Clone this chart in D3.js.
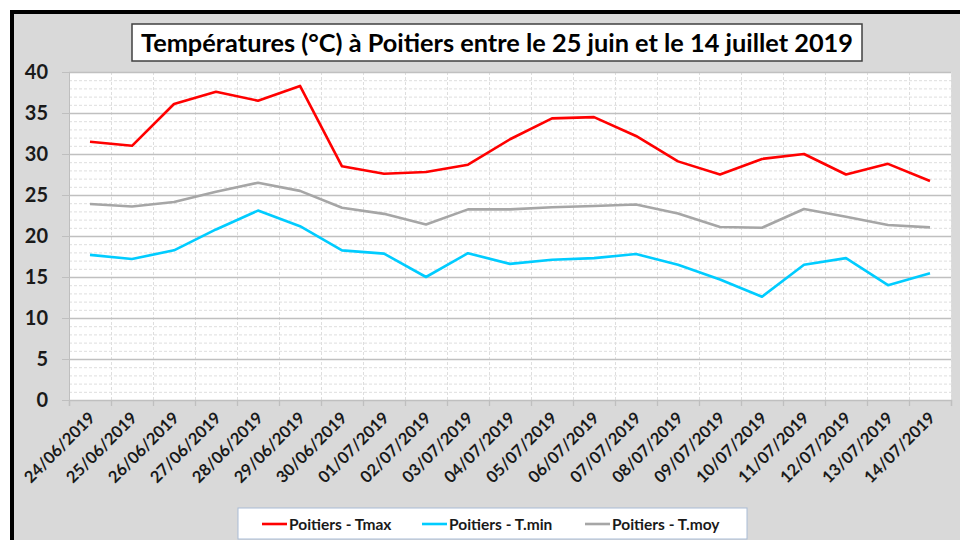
<!DOCTYPE html>
<html>
<head>
<meta charset="utf-8">
<script src="https://cdn.jsdelivr.net/npm/d3@7"></script>
<style>
  body { margin: 0; background: #fff; }
  svg { display: block; font-family: Lato, "Open Sans", sans-serif; }
</style>
</head>
<body>
<div id="chart"></div>
<script>
const dates = ["24/06/2019","25/06/2019","26/06/2019","27/06/2019","28/06/2019","29/06/2019","30/06/2019",
  "01/07/2019","02/07/2019","03/07/2019","04/07/2019","05/07/2019","06/07/2019","07/07/2019",
  "08/07/2019","09/07/2019","10/07/2019","11/07/2019","12/07/2019","13/07/2019","14/07/2019"];
const tmax = [31.5, 31.0, 36.1, 37.6, 36.5, 38.3, 28.5, 27.6, 27.8, 28.7, 31.8, 34.35, 34.5, 32.2, 29.1, 27.5, 29.4, 30.0, 27.5, 28.8, 26.7];
const tmin = [17.7, 17.2, 18.25, 20.8, 23.1, 21.2, 18.25, 17.85, 15.0, 17.9, 16.6, 17.1, 17.3, 17.8, 16.5, 14.7, 12.6, 16.5, 17.3, 14.0, 15.45];
const tmoy = [23.9, 23.6, 24.15, 25.4, 26.5, 25.5, 23.45, 22.7, 21.4, 23.25, 23.25, 23.5, 23.65, 23.85, 22.75, 21.1, 21.0, 23.3, 22.35, 21.35, 21.05];
const yTicks = [0, 5, 10, 15, 20, 25, 30, 35, 40];
const title = "Températures (°C) à Poitiers entre le 25 juin et le 14 juillet 2019";
const seriesNames = ["Poitiers - Tmax", "Poitiers - T.min", "Poitiers - T.moy"];
const colors = ["#ff0000", "#00ccff", "#a6a6a6"];

const W = 960, H = 540;
const plot = { left: 69, right: 951, top: 72, bottom: 400 };

const svg = d3.select("#chart").append("svg")
    .attr("width", W).attr("height", H);

// outer frame (continues past the right / bottom edge)
svg.append("rect")
    .attr("x", 12).attr("y", 12)
    .attr("width", 1000).attr("height", 600)
    .attr("fill", "#d9d9d9")
    .attr("stroke", "#000").attr("stroke-width", 4);

svg.append("rect")
    .attr("x", plot.left).attr("y", plot.top)
    .attr("width", plot.right - plot.left).attr("height", plot.bottom - plot.top)
    .attr("fill", "#fff");

const x = d3.scaleBand().domain(dates).range([plot.left, plot.right]);
const xb = d3.scaleLinear().domain([0, dates.length]).range([plot.left, plot.right]);
const y = d3.scaleLinear().domain([0, 40]).range([plot.bottom, plot.top]);

// minor dashed grid, every degree
svg.append("g")
    .attr("transform", `translate(${plot.left},0)`)
    .call(d3.axisLeft(y).tickValues(d3.range(1, 41).filter(v => v % 5 !== 0))
        .tickSize(-(plot.right - plot.left)).tickFormat(""))
    .call(g => g.select(".domain").remove())
    .call(g => g.selectAll("line").attr("stroke", "#dedede").attr("stroke-dasharray", "3,2"));

// vertical dashed grid at category boundaries
svg.append("g")
    .attr("transform", `translate(0,${plot.top})`)
    .call(d3.axisBottom(xb).tickValues(d3.range(1, dates.length + 1))
        .tickSize(plot.bottom - plot.top).tickFormat(""))
    .call(g => g.select(".domain").remove())
    .call(g => g.selectAll("line").attr("stroke", "#dedede").attr("stroke-dasharray", "3,2"));

// y axis
svg.append("g")
    .attr("transform", `translate(${plot.left},0)`)
    .call(d3.axisLeft(y).tickValues(yTicks).tickSize(7).tickPadding(14))
    .call(g => g.select(".domain").attr("stroke", "#bfbfbf"))
    .call(g => g.selectAll(".tick line").attr("stroke", "#bfbfbf"))
    .call(g => g.selectAll(".tick text")
        .attr("fill", "#1a1a1a").attr("font-size", 20).attr("font-weight", "bold")
        .attr("font-family", "Lato, sans-serif"));
// major grid
svg.append("g")
    .attr("transform", `translate(${plot.left},0)`)
    .call(d3.axisLeft(y).tickValues(yTicks.slice(1)).tickSize(-(plot.right - plot.left)).tickFormat(""))
    .call(g => g.select(".domain").remove())
    .call(g => g.selectAll("line").attr("stroke", "#c0c0c0").attr("stroke-width", 1.3));

// x axis ticks at boundaries
svg.append("g")
    .attr("transform", `translate(0,${plot.bottom})`)
    .call(d3.axisBottom(xb).tickValues(d3.range(0, dates.length + 1)).tickSize(6).tickFormat(""))
    .call(g => g.selectAll("line, path").attr("stroke", "#bfbfbf").attr("stroke-width", 1.3));

// x labels
svg.append("g")
    .attr("transform", `translate(0,${plot.bottom})`)
    .call(d3.axisBottom(x).tickSize(0).tickPadding(0))
    .call(g => g.select(".domain").remove())
    .call(g => g.selectAll(".tick text")
        .attr("text-anchor", "end")
        .attr("dy", 0)
        .attr("transform", "translate(6,19) rotate(-45)")
        .attr("fill", "#1a1a1a").attr("font-size", 16.5).attr("font-weight", "bold")
        .attr("font-family", "Lato, sans-serif"));

// lines
const line = d3.line()
    .x((d, i) => x(dates[i]) + x.bandwidth() / 2)
    .y(d => y(d));

[tmax, tmin, tmoy].forEach((s, i) => {
    svg.append("path")
        .datum(s)
        .attr("fill", "none")
        .attr("stroke", colors[i])
        .attr("stroke-width", 2.6)
        .attr("stroke-linejoin", "round")
        .attr("d", line);
});

// title
svg.append("rect")
    .attr("x", 132).attr("y", 24).attr("width", 730).attr("height", 37)
    .attr("fill", "#fff").attr("stroke", "#404040").attr("stroke-width", 1.5);
svg.append("text")
    .attr("x", 497).attr("y", 52)
    .attr("text-anchor", "middle")
    .attr("font-size", 24).attr("font-weight", "bold").attr("fill", "#000")
    .attr("textLength", 712).attr("lengthAdjust", "spacingAndGlyphs")
    .text(title);

// legend
const legend = svg.append("g");
legend.append("rect")
    .attr("x", 238).attr("y", 508).attr("width", 509).attr("height", 31)
    .attr("fill", "#fff").attr("stroke", "#a9bcd6").attr("stroke-width", 1);
const legX = [262, 422, 585];
seriesNames.forEach((name, i) => {
    legend.append("line")
        .attr("x1", legX[i]).attr("x2", legX[i] + 25)
        .attr("y1", 524).attr("y2", 524)
        .attr("stroke", colors[i]).attr("stroke-width", 2.6);
    legend.append("text")
        .attr("x", legX[i] + 27).attr("y", 529.5)
        .attr("font-size", 15.5).attr("font-weight", "bold").attr("fill", "#1a1a1a")
        .text(name);
});
</script>
</body>
</html>
